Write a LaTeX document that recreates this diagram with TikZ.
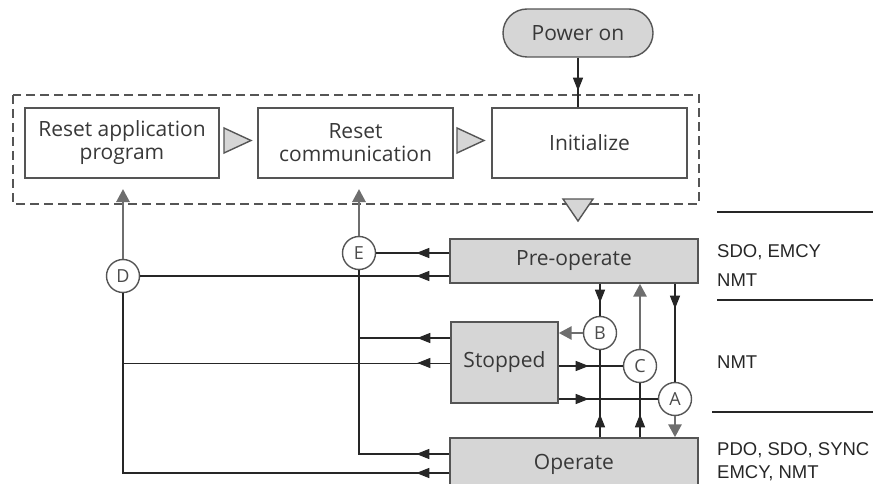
\documentclass[tikz,border=0pt]{standalone}
\usepackage{fontspec}
\setmainfont{Open Sans}
\newfontfamily\lblfont{Liberation Sans}
\usetikzlibrary{arrows.meta,decorations.markings}
\definecolor{edge}{HTML}{555555}
\definecolor{boxfill}{HTML}{D6D6D6}
\definecolor{flow}{HTML}{6E6E6E}
\tikzset{
  blk/.tip={Triangle[length=13pt,width=10pt]},
  state/.style={draw=edge,line width=1.4pt,inner sep=0pt,text=black!78,font=\fontsize{21}{23}\selectfont,align=center},
  busy/.style={state,fill=boxfill},
  pick/.style={circle,draw=edge,line width=1.4pt,fill=white,minimum size=33pt,inner sep=0pt,text=black!70,font=\fontsize{18}{18}\selectfont},
  link/.style={line width=1.5pt,black!85},
  midtip/.style={postaction={decorate},decoration={markings,mark=at position #1 with {\arrow{blk}}}},
  back/.style={line width=2.8pt,flow,-{Triangle[length=13pt,width=13pt]}},
  tri/.style={draw=edge,line width=1.4pt,fill=boxfill},
  proto/.style={anchor=west,inner sep=0pt,text=black!85,font=\lblfont\fontsize{18.5}{19}\selectfont}
}
\begin{document}
\begin{tikzpicture}[x=1pt,y=-1pt]
  \useasboundingbox (0,0) rectangle (873,484);

  \node[busy,rounded corners=24pt,minimum width=150pt,minimum height=48pt] (power) at (578,33) {Power on};

  \draw[edge,line width=1.7pt,dash pattern=on 9pt off 5pt] (13,95) rectangle (699,204);
  \node[state,minimum width=194pt,minimum height=70pt] (resetapp) at (122,143) {Reset application\\program};
  \node[state,minimum width=195pt,minimum height=70pt] (resetcomm) at (355.5,143) {Reset\\communication};
  \node[state,minimum width=195pt,minimum height=70pt] (init) at (589.5,143) {Initialize};
  \draw[tri] (224,128) -- (251,140.5) -- (224,153) -- cycle;
  \draw[tri] (457,128) -- (484,140.5) -- (457,153) -- cycle;
  \draw[tri] (563,199) -- (593,199) -- (578,221) -- cycle;

  \node[busy,minimum width=248pt,minimum height=44pt] (preop) at (574,261) {Pre-operate};
  \node[busy,minimum width=107pt,minimum height=81pt] (stopped) at (504.5,362.5) {Stopped};
  \node[busy,minimum width=248pt,minimum height=52pt] (operate) at (574,464) {Operate};

  \node[pick] (cE) at (359,253) {E};
  \node[pick] (cD) at (123,276) {D};
  \node[pick] (cB) at (600,333) {B};
  \node[pick] (cC) at (640,366) {C};
  \node[pick] (cA) at (675,399) {A};

  \coordinate (toapp) at (123,189);
  \coordinate (tocomm) at (359,189);

  \draw[link,midtip=33pt] (power.south) -- (power.south |- init.north);

  \draw[link,midtip=33pt] (preop.west |- cE) -- (cE.east);
  \draw[link,midtip=33pt] (preop.west |- cD) -- (cD.east);
  \draw[link,midtip=33pt] (stopped.west |- 0,338) -- (cE |- 0,338);
  \draw[link,line width=0.9pt,midtip=33pt] (stopped.west |- 0,363) -- (cD |- 0,363);
  \draw[link,midtip=33pt] (operate.west |- 0,454) -| (cE.south);
  \draw[link,midtip=33pt] (operate.west |- 0,473) -| (cD.south);
  \draw[back] (cD.north) -- (toapp);
  \draw[back] (cE.north) -- (tocomm);

  \draw[link,midtip=19pt] (preop.south -| cB) -- (cB.north);
  \draw[back] (cB.west) -- (stopped.east |- cB);
  \draw[link,midtip=23pt] (operate.north -| cB) -- (cB.south);
  \draw[link,midtip=30pt] (stopped.east |- cC) -- (cC.west);
  \draw[back] (cC.north) -- (preop.south -| cC);
  \draw[link,midtip=23pt] (operate.north -| cC) -- (cC.south);
  \draw[link,midtip=25pt] (preop.south -| cA) -- (cA.north);
  \draw[link,midtip=30pt] (stopped.east |- cA) -- (cA.west);
  \draw[back] (cA.south) -- (operate.north -| cA);

  \draw[line width=1.4pt,black!85] (717,212) -- (873,212);
  \draw[line width=1.4pt,black!85] (717,300) -- (873,300);
  \draw[line width=1.4pt,black!85] (712,412) -- (873,412);
  \node[proto] (pre1) at (717,252) {SDO, EMCY};
  \node[proto] (pre2) at (717,280) {NMT};
  \node[proto] (stop1) at (717,362) {NMT};
  \node[proto] (op1) at (717,450) {PDO, SDO, SYNC};
  \node[proto] (op2) at (717,473) {EMCY, NMT};
\end{tikzpicture}
\end{document}
